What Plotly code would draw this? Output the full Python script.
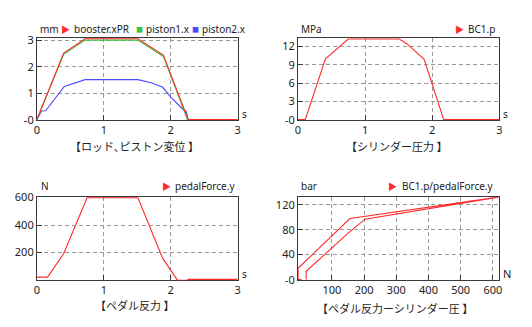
import plotly.graph_objects as go

W, H = 532, 327

# --- displacement (mm) vs time (s)
t_booster = [0, 0.40, 0.72, 1.51, 1.89, 2.26, 3.0]
booster_xPR = [0, 2.52, 3.06, 3.06, 2.44, 0, 0]
t_piston1 = [0, 0.40, 0.72, 1.51, 1.89, 2.25, 3.0]
piston1_x = [0, 2.47, 3.01, 3.01, 2.39, 0, 0]
t_piston2 = [0, 0.07, 0.13, 0.41, 0.72, 1.51, 1.72, 1.88, 2.00, 2.19, 2.23, 2.26, 3.0]
piston2_x = [0, 0.32, 0.33, 1.25, 1.51, 1.51, 1.38, 1.22, 0.85, 0.37, 0.32, 0, 0]

# --- cylinder pressure (MPa) vs time
t_bc1 = [0, 0.11, 0.41, 0.55, 0.75, 1.51, 1.63, 1.88, 2.17, 3.0]
bc1_p = [0, 0, 10.0, 11.3, 13.25, 13.25, 12.4, 9.9, 0, 0]

# --- pedal force (N) vs time
t_pedal = [0, 0.16, 0.40, 0.75, 1.51, 1.88, 2.10, 2.25, 2.26, 3.0]
pedal_force = [22, 22, 193, 598, 598, 158, 0, 0, 6, 6]

# --- cylinder pressure (bar) vs pedal force (N)
pf_loop = [20, 20, 146, 203, 617, 156, -5, -5, 6]
p_loop = [0, 13, 72.5, 97, 132.5, 98, 18, 0, 0]

RED = "#ff2a2a"
GREEN = "#3cc43c"
BLUE = "#4a4aff"
FONT = "Noto Sans"
FONT_JP = "Noto Sans CJK JP"


def px(x):
    return x / W


def py(y):
    return 1 - y / H


fig = go.Figure()
fig.add_trace(go.Scatter(x=t_piston2, y=piston2_x, mode="lines",
                         line=dict(color=BLUE, width=1.1), xaxis="x", yaxis="y"))
fig.add_trace(go.Scatter(x=t_piston1, y=piston1_x, mode="lines",
                         line=dict(color=GREEN, width=1.1), xaxis="x", yaxis="y"))
fig.add_trace(go.Scatter(x=t_booster, y=booster_xPR, mode="lines",
                         line=dict(color=RED, width=1.1), xaxis="x", yaxis="y"))
fig.add_trace(go.Scatter(x=t_bc1, y=bc1_p, mode="lines",
                         line=dict(color=RED, width=1.1), xaxis="x2", yaxis="y2"))
fig.add_trace(go.Scatter(x=t_pedal, y=pedal_force, mode="lines",
                         line=dict(color=RED, width=1.1), xaxis="x3", yaxis="y3"))
fig.add_trace(go.Scatter(x=pf_loop, y=p_loop, mode="lines",
                         line=dict(color=RED, width=1.1), xaxis="x4", yaxis="y4"))

axis_common = dict(
    showline=True, linecolor="#3a3a3a", linewidth=1, mirror=True,
    ticks="inside", ticklen=5, tickcolor="#3a3a3a",
    showgrid=True, gridcolor="#999999", griddash="4px,3px", gridwidth=1,
    zeroline=False, tickfont=dict(family=FONT, size=11, color="#222"),
    layer="below traces", fixedrange=True,
)

left_dom = [px(34.3), px(237.3)]
right_dom = [px(298.3), px(502)]
top_dom = [py(118.3), py(32.5)]
bot_dom = [py(285.4), py(198.3)]

time_ticks = dict(tickvals=[0, 1, 2, 3], ticktext=["0", "1", "2", "3"])

fig.update_layout(
    width=W, height=H, margin=dict(l=0, r=0, t=0, b=0),
    paper_bgcolor="white", plot_bgcolor="white", showlegend=False,
    xaxis=dict(axis_common, domain=left_dom, anchor="y", range=[0, 3], **time_ticks),
    yaxis=dict(axis_common, domain=top_dom, anchor="x", range=[-0.03, 3.085],
               tickvals=[-0.03, 1, 2, 3], ticktext=["-0", "1", "2", "3"]),
    xaxis2=dict(axis_common, domain=right_dom, anchor="y2", range=[0, 3], **time_ticks),
    yaxis2=dict(axis_common, domain=top_dom, anchor="x2", range=[-0.13, 13.4],
                tickvals=[-0.13, 3, 6, 9, 12], ticktext=["-0", "3", "6", "9", "12"]),
    xaxis3=dict(axis_common, domain=left_dom, anchor="y3", range=[0, 3], **time_ticks),
    yaxis3=dict(axis_common, domain=bot_dom, anchor="x3", range=[0, 605],
                tickvals=[200, 400, 600], ticktext=["200", "400", "600"]),
    xaxis4=dict(axis_common, domain=right_dom, anchor="y4", range=[-5.5, 620],
                tickvals=[100, 200, 300, 400, 500, 600],
                ticktext=["100", "200", "300", "400", "500", "600"]),
    yaxis4=dict(axis_common, domain=bot_dom, anchor="x4", range=[-1.2, 133],
                tickvals=[-1.2, 40, 80, 120], ticktext=["-0", "40", "80", "120"]),
)


def label(x, y, text, anchor="left", color="#222", size=10, family=FONT):
    fig.add_annotation(xref="paper", yref="paper", x=px(x), y=py(y), text=text,
                       showarrow=False, xanchor=anchor, yanchor="middle",
                       font=dict(family=family, size=size, color=color))


# units and legends
label(35, 22.5, "mm")
label(63.3, 23, "▶", "center", RED, 9, FONT_JP)
label(70, 22.5, "booster.xPR")
label(138.5, 23, "■", "center", GREEN, 7, FONT_JP)
label(142.5, 22.5, "piston1.x")
label(195, 23, "■", "center", BLUE, 7, FONT_JP)
label(199.5, 22.5, "piston2.x")

label(299, 22.5, "MPa")
label(462, 23, "▶", "center", RED, 9, FONT_JP)
label(468.5, 22.5, "BC1.p")

label(36, 187.5, "N")
label(165.7, 188, "▶", "center", RED, 9, FONT_JP)
label(171.5, 187.5, "pedalForce.y")

label(299, 187.5, "bar")
label(394.3, 188, "▶", "center", RED, 9, FONT_JP)
label(401.5, 187.5, "BC1.p/pedalForce.y")

label(244, 112, "s", "center")
label(508.3, 112, "s", "center")
label(244.3, 278.5, "s", "center")
label(509.3, 278.5, "N", "center", size=11)

# panel captions
label(133.5, 145, "【ロッド､ピストン変位 】", "center", size=11, family=FONT_JP)
label(397.7, 145, "【シリンダー圧力 】", "center", size=11, family=FONT_JP)
label(132.5, 311.7, "【ペダル反力 】", "center", size=11, family=FONT_JP)
label(396.8, 314, "【ペダル反力ーシリンダー圧 】", "center", size=11, family=FONT_JP)

fig.write_html("out.html")
